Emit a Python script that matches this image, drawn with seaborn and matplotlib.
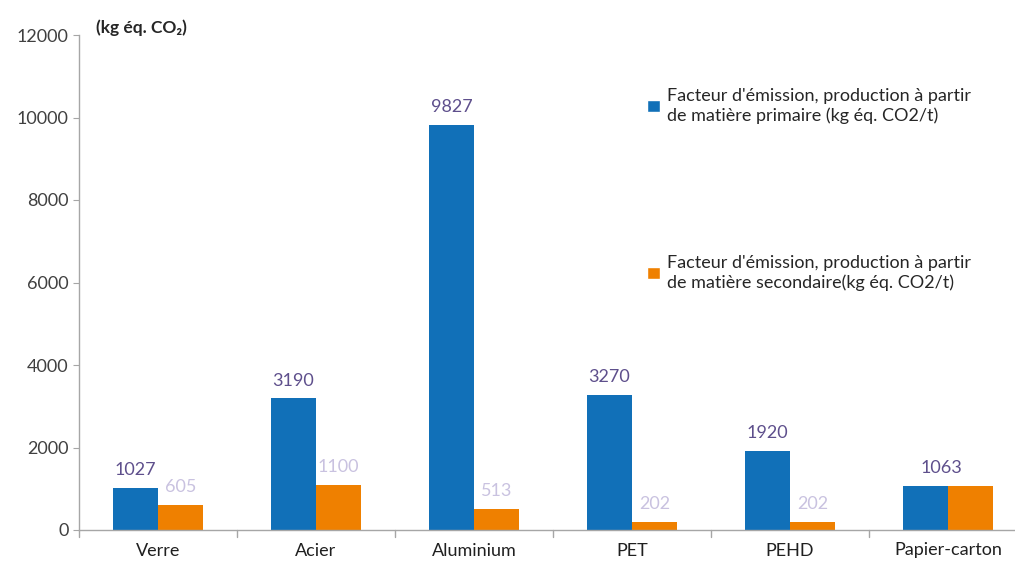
import pandas as pd
import seaborn as sns
import matplotlib.pyplot as plt
from matplotlib.patches import Patch

# Data
materials = ['Verre', 'Acier', 'Aluminium', 'PET', 'PEHD', 'Papier-carton']
primaire = [1027, 3190, 9827, 3270, 1920, 1063]
secondaire = [605, 1100, 513, 202, 202, 1063]
series = ["Facteur d'émission, production à partir\nde matière primaire (kg éq. CO2/t)",
          "Facteur d'émission, production à partir\nde matière secondaire(kg éq. CO2/t)"]
colors = ['#1170b8', '#ef8000']
label_colors = ['#5e4f8c', '#c9c2e0']

df = pd.DataFrame({
    'materiau': materials * 2,
    'valeur': primaire + secondaire,
    'serie': [series[0]] * len(materials) + [series[1]] * len(materials),
})

sns.set_style('white')
plt.rcParams['font.family'] = ['Lato', 'DejaVu Sans']

fig = plt.figure(figsize=(10.15, 5.65), dpi=100)
ax = fig.add_axes([79 / 1015, 35 / 565, 948 / 1015, 495 / 565])

sns.barplot(data=df, x='materiau', y='valeur', hue='serie', palette=colors,
            width=0.57, saturation=1, linewidth=0, ax=ax, legend=False)

ax.set_ylim(0, 12000)
ax.set_yticks(range(0, 12001, 2000))
ax.set_xlabel('')
ax.set_ylabel('')
ax.tick_params(axis='y', labelsize=13, length=4, direction='out', left=True, color='#a6a6a6')
ax.tick_params(axis='x', labelsize=13, length=0, pad=9)
for lbl in ax.get_yticklabels():
    lbl.set_color('#404040')
for lbl in ax.get_xticklabels():
    lbl.set_color('#202020')
for s in ['top', 'right']:
    ax.spines[s].set_visible(False)
for s in ['left', 'bottom']:
    ax.spines[s].set_color('#a6a6a6')
    ax.spines[s].set_linewidth(1)

# category separators on x axis
for i in range(len(materials) + 1):
    ax.plot([i - 0.5, i - 0.5], [0, -180], color='#a6a6a6', lw=1, clip_on=False)
ax.set_xlim(-0.5, len(materials) - 0.5)

# value labels
blue_bars, orange_bars = ax.containers[0], ax.containers[1]
blue_labels = [str(v) for v in primaire]
blue_labels[-1] = ''
ax.bar_label(blue_bars, labels=blue_labels, padding=7, fontsize=13, color=label_colors[0])
orange_labels = [str(v) for v in secondaire]
orange_labels[-1] = ''
ax.bar_label(orange_bars, labels=orange_labels, padding=7, fontsize=13, color=label_colors[1])
# Papier-carton : une seule étiquette
last = blue_bars.patches[-1]
ax.annotate(str(primaire[-1]), (last.get_x() + last.get_width() * 0.85, last.get_height()),
            xytext=(0, 7), textcoords='offset points', ha='center', va='bottom',
            fontsize=13, color=label_colors[0])

fig.text(96 / 1015, 1 - 28 / 565, '(kg éq. CO₂)', fontsize=12.5, fontweight='bold',
         color='#262626', va='center', ha='left')

handles = [Patch(facecolor=c) for c in colors]
fig.legend(handles, series, loc='upper left', bbox_to_anchor=(631 / 1015, 1 - 72 / 565),
           frameon=False, fontsize=13, labelspacing=7.3, handlelength=0.7, handleheight=0.7,
           handletextpad=0.4, labelcolor='#262626')

fig.savefig('out.png', dpi=100)
